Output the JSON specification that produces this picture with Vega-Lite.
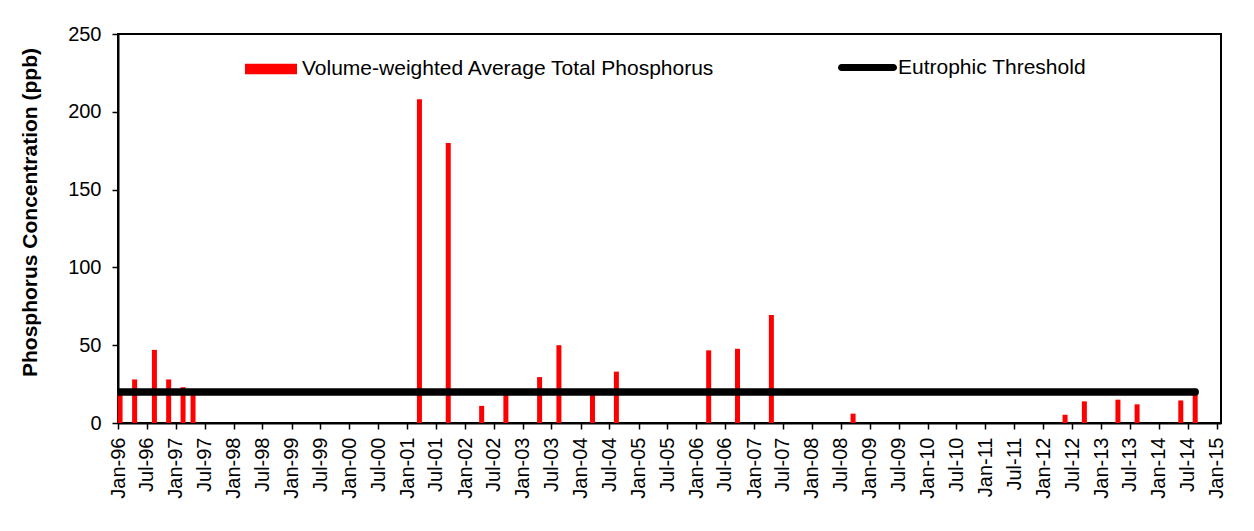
{
  "$schema": "https://vega.github.io/schema/vega-lite/v6.json",
  "width": 1103,
  "height": 389,
  "autosize": {"type": "none"},
  "padding": {"left": 118, "top": 34, "right": 33, "bottom": 108},
  "background": "white",
  "config": {
    "font": "Liberation Sans",
    "view": {"stroke": "#000", "strokeWidth": 2},
    "axis": {"grid": false, "domainColor": "#000", "domainWidth": 2, "tickColor": "#000", "tickWidth": 1.5, "tickSize": 6, "labelColor": "#000", "labelFont": "Liberation Sans", "titleFont": "Liberation Sans", "titleColor": "#000"}
  },
  "datasets": {
    "bars": [
      {"date": "1996-01-14", "tp": 19},
      {"date": "1996-04-15", "tp": 28},
      {"date": "1996-08-18", "tp": 47},
      {"date": "1996-11-16", "tp": 28},
      {"date": "1997-02-15", "tp": 23},
      {"date": "1997-04-19", "tp": 19},
      {"date": "2001-03-19", "tp": 208},
      {"date": "2001-09-17", "tp": 180},
      {"date": "2002-04-16", "tp": 11},
      {"date": "2002-09-16", "tp": 19},
      {"date": "2003-04-17", "tp": 29.5},
      {"date": "2003-08-17", "tp": 50},
      {"date": "2004-03-16", "tp": 19},
      {"date": "2004-08-14", "tp": 33},
      {"date": "2006-03-20", "tp": 46.7},
      {"date": "2006-09-18", "tp": 47.7},
      {"date": "2007-04-20", "tp": 69.4},
      {"date": "2008-09-17", "tp": 6},
      {"date": "2012-05-18", "tp": 5.3},
      {"date": "2012-09-17", "tp": 13.9},
      {"date": "2013-04-17", "tp": 15},
      {"date": "2013-08-16", "tp": 12},
      {"date": "2014-05-19", "tp": 14.5},
      {"date": "2014-08-18", "tp": 22}
    ],
    "threshold": [
      {"date": "1996-01-01", "tp": 20},
      {"date": "2014-08-18", "tp": 20}
    ]
  },
  "layer": [
    {
      "data": {"name": "bars"},
      "mark": {"type": "bar", "width": 5},
      "encoding": {
        "x": {
          "field": "date", "type": "temporal",
          "scale": {"type": "utc", "padding": 0, "nice": false, "domain": [{"year": 1996, "month": 1, "date": 1, "utc": true}, {"year": 2015, "month": 1, "date": 28, "utc": true}]},
          "axis": {"title": null, "labelExpr": "utcFormat(datum.value, '%b-%y')", "tickCount": {"interval": "month", "step": 6}, "labelAngle": 270, "labelAlign": "right", "labelBaseline": "middle", "labelFontSize": 20, "labelPadding": 8, "labelOverlap": false, "labelBound": false, "labelFlush": false}
        },
        "y": {
          "field": "tp", "type": "quantitative",
          "scale": {"domain": [0, 250], "nice": false, "padding": 0},
          "axis": {"title": "Phosphorus Concentration (ppb)", "values": [0, 50, 100, 150, 200, 250], "labelFontSize": 20, "labelPadding": 11, "titleFontSize": 21, "titleFontWeight": "bold", "titleAngle": 270, "titleX": -88, "titleY": 178, "titleAlign": "center", "titleBaseline": "middle"}
        },
        "color": {
          "datum": "Volume-weighted Average Total Phosphorus",
          "type": "nominal",
          "scale": {"range": ["#ff0000"]},
          "legend": {"orient": "none", "legendX": 127, "legendY": 9, "title": null, "padding": 0, "symbolType": "M-1,-0.2H1V0.2H-1Z", "symbolSize": 2704, "symbolStrokeWidth": 0, "labelFontSize": 21, "labelColor": "#000", "labelFont": "Liberation Sans", "labelOffset": 5, "labelLimit": 600}
        }
      }
    },
    {
      "data": {"name": "threshold"},
      "mark": {"type": "line", "strokeWidth": 7.5, "strokeCap": "round", "clip": true},
      "encoding": {
        "x": {"field": "date", "type": "temporal"},
        "y": {"field": "tp", "type": "quantitative"},
        "stroke": {
          "datum": "Eutrophic Threshold",
          "type": "nominal",
          "scale": {"range": ["#000000"]},
          "legend": {"orient": "none", "legendX": 720, "legendY": 4, "title": null, "padding": 0, "symbolType": "M-0.88,-0.12H0.88A0.12,0.12 0 0 1 0.88,0.12H-0.88A0.12,0.12 0 0 1 -0.88,-0.12Z", "symbolSize": 3481, "symbolFillColor": "#000", "symbolStrokeWidth": 0, "labelFontSize": 21, "labelColor": "#000", "labelFont": "Liberation Sans", "labelOffset": 1, "labelLimit": 600}
        }
      }
    }
  ]
}
